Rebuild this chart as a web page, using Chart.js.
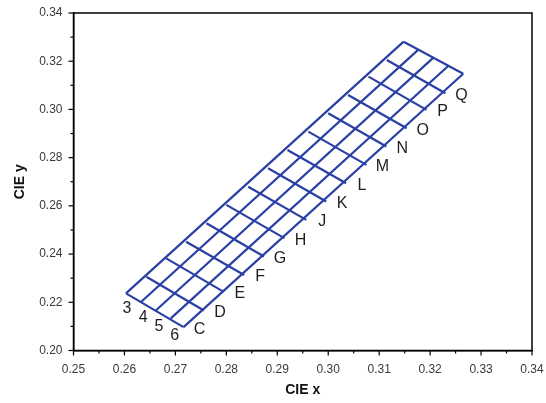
<!DOCTYPE html>
<html>
<head>
<meta charset="utf-8">
<script src="https://cdn.jsdelivr.net/npm/chart.js@4.4.1/dist/chart.umd.min.js"></script>
<style>
  html, body { margin: 0; padding: 0; background: #ffffff; }
  #wrap { width: 546px; height: 403px; position: relative; }
</style>
</head>
<body>
<div id="wrap"><canvas id="c" width="546" height="403"></canvas></div>
<script>
// Upper long edge (line "3") end points of the cross lines C..(last)
const crossTopX = [0.2603,0.2643,0.2682,0.2721,0.2761,0.2800,0.2843,0.2882,0.2920,0.2961,0.3000,0.3039,0.3079,0.3115,0.3148];
const crossTopY = [0.2237,0.2306,0.2382,0.2451,0.2528,0.2604,0.2679,0.2756,0.2832,0.2908,0.2984,0.3060,0.3136,0.3205,0.3281];
// Lower long edge end points of the cross lines
const crossBotX = [0.2716,0.2756,0.2795,0.2835,0.2874,0.2914,0.2957,0.2996,0.3035,0.3075,0.3114,0.3154,0.3193,0.3230,0.3265];
const crossBotY = [0.2097,0.2166,0.2243,0.2313,0.2390,0.2466,0.2542,0.2618,0.2694,0.2770,0.2846,0.2922,0.2998,0.3067,0.3148];
// Long lines (3,4,5,6,...) start and end points
const longStartX = [0.2603,0.2633,0.2662,0.2691,0.2716];
const longStartY = [0.2237,0.2202,0.2167,0.2133,0.2097];
const longEndX = [0.3148,0.3177,0.3206,0.3236,0.3265];
const longEndY = [0.3281,0.3248,0.3214,0.3181,0.3148];
// Labels
const crossLabels = ['C','D','E','F','G','H','J','K','L','M','N','O','P','Q'];
const longLabels = ['3','4','5','6'];
// Axis ticks
const xMin = 0.25, xMax = 0.34, xStep = 0.005;
const yMin = 0.20, yMax = 0.34, yStep = 0.01;
const xTitle = 'CIE x';
const yTitle = 'CIE y';

const BLUE = '#2a3fa3';
const datasets = [];
for (let i = 0; i < crossTopX.length; i++) {
  datasets.push({
    data: [{x: crossTopX[i], y: crossTopY[i]}, {x: crossBotX[i], y: crossBotY[i]}],
    showLine: true, borderColor: BLUE, borderWidth: 2.2, pointRadius: 0, fill: false
  });
}
for (let j = 0; j < longStartX.length; j++) {
  datasets.push({
    data: [{x: longStartX[j], y: longStartY[j]}, {x: longEndX[j], y: longEndY[j]}],
    showLine: true, borderColor: BLUE, borderWidth: 2.2, pointRadius: 0, fill: false
  });
}

const FONT = "'Liberation Sans', Arial, sans-serif";

const decor = {
  id: 'decor',
  afterDatasetsDraw(chart) {
    const ctx = chart.ctx;
    const xs = chart.scales.x, ys = chart.scales.y;
    const a = chart.chartArea;
    ctx.save();
    // labels
    ctx.fillStyle = '#1e1e1e';
    ctx.font = '16px ' + FONT;
    ctx.textAlign = 'center';
    ctx.textBaseline = 'middle';
    crossLabels.forEach((t, i) => {
      const px = xs.getPixelForValue(crossBotX[i]) + 16;
      const py = ys.getPixelForValue(crossBotY[i]) + 2;
      ctx.fillText(t, px, py);
    });
    longLabels.forEach((t, j) => {
      const px = xs.getPixelForValue(longStartX[j]) + 1 + j;
      const py = ys.getPixelForValue(longStartY[j]) + 15 + j * 0.8;
      ctx.fillText(t, px, py);
    });
    // frame
    ctx.strokeStyle = '#000';
    ctx.lineWidth = 1.5;
    ctx.strokeRect(a.left, a.top, a.right - a.left, a.bottom - a.top);
    // ticks
    ctx.lineWidth = 1.2;
    xs.ticks.forEach(t => {
      const major = Math.round(t.value * 1000) % 10 === 0;
      const px = xs.getPixelForValue(t.value);
      ctx.beginPath();
      ctx.moveTo(px, a.bottom);
      ctx.lineTo(px, a.bottom + (major ? 5 : 3));
      ctx.stroke();
    });
    ys.ticks.forEach(t => {
      const major = Math.round(t.value * 100) % 2 === 0;
      const py = ys.getPixelForValue(t.value);
      ctx.beginPath();
      ctx.moveTo(a.left, py);
      ctx.lineTo(a.left - (major ? 5 : 3), py);
      ctx.stroke();
    });
    ctx.restore();
  }
};

new Chart(document.getElementById('c'), {
  type: 'scatter',
  data: { datasets },
  options: {
    responsive: false,
    animation: false,
    devicePixelRatio: 1,
    layout: { padding: { left: 0, top: 13, right: 14, bottom: 0 } },
    plugins: { legend: { display: false }, tooltip: { enabled: false } },
    scales: {
      x: {
        type: 'linear', min: xMin, max: xMax,
        afterFit(s) { s.height = 52.5; s.paddingLeft = 0; s.paddingRight = 0; },
        grid: { display: false, drawTicks: false, tickLength: 0 },
        border: { display: true, color: '#000', width: 1.5 },
        ticks: {
          stepSize: xStep, autoSkip: false, maxRotation: 0, padding: 12,
          color: '#3a3a3a', font: { family: FONT, size: 12 },
          callback: v => (Math.round(v * 1000) % 10 === 0 ? v.toFixed(2) : '')
        },
        title: { display: true, text: xTitle, color: '#111', font: { family: FONT, size: 14, weight: 'bold' }, padding: { top: 0, bottom: 4 } }
      },
      y: {
        type: 'linear', min: yMin, max: yMax,
        afterFit(s) { s.width = 73.5; s.paddingTop = 0; s.paddingBottom = 0; },
        grid: { display: false, drawTicks: false, tickLength: 0 },
        border: { display: true, color: '#000', width: 1.5 },
        ticks: {
          stepSize: yStep, autoSkip: false, padding: 11,
          color: '#3a3a3a', font: { family: FONT, size: 12 },
          callback: v => (Math.round(v * 100) % 2 === 0 ? v.toFixed(2) : '')
        },
        title: { display: true, text: yTitle, color: '#111', font: { family: FONT, size: 14, weight: 'bold' }, padding: { top: 12, bottom: 0 } }
      }
    }
  },
  plugins: [decor]
});
</script>
</body>
</html>
